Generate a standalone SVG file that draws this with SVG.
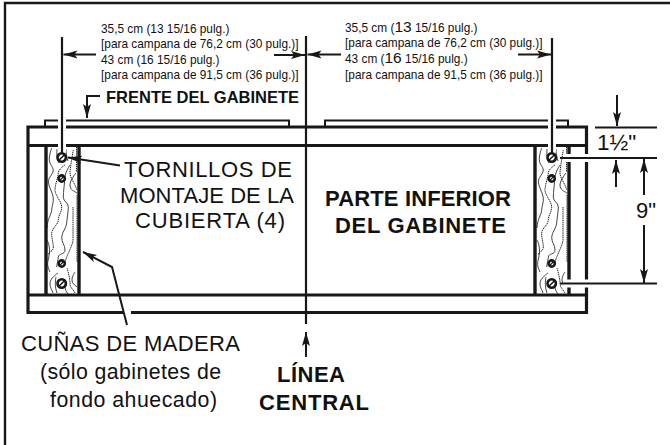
<svg xmlns="http://www.w3.org/2000/svg" width="670" height="445" viewBox="0 0 670 445">
<defs>
<marker id="a" markerUnits="userSpaceOnUse" markerWidth="15" markerHeight="10" refX="14" refY="4.500" orient="auto"><path d="M0 0.500L14 4.500L0 8.500L3 4.500Z" fill="#1a1718"/></marker>
<g id="wood">
<path class="g" d="M51.700 148S49 155 49.300 160 53 166 53.300 170 48 177 48.300 182 53 193 53.300 198 52 205 51.700 210 47.500 218 47 228"/>
<path class="d" d="M65 165S58.500 169 58.300 173 55 185 55 190 61.700 202 61.700 207 58.500 215 58.300 220 52 228 51.700 233 53.300 242 53.300 247 48.500 251 48.300 255"/>
<path class="g" d="M70 165S65.300 172 65 177 63.300 192 63.300 197 68.300 202 68.300 207 67 218 66.700 223 62 232 61.700 237 65 245 65 250 58.500 253 58.300 257 57 263 56.700 267"/>
<path class="d" d="M73.300 150S70 168 70 173 76 185 76.700 190"/>
<path class="g" d="M76 173S70 180 70 185 74 191 77 193"/>
<path class="g" d="M57 149S56 158 59 163M66 149S66 155 68 161"/>
<path class="d" d="M73 207S73 235 73 240 65.300 258 65 263"/>
<path class="g" d="M58 273S50.300 278 50 283 52 289 53 293"/>
<path class="d" d="M67 268S70 278 70 283 73 289 75 293"/>
<path class="g" d="M75 272S72 276 72 280 75 285 77 287"/>
<path class="g" d="M47 240S51 247 49 256 47 265 50 272M56 277S54 285 57 293"/>
<path class="d" d="M76.500 147V172M77 195V262"/>
<path class="g" d="M68 294S63 288 66 284"/>
</g>
<g id="screw-big"><circle class="t" r="4.200"/><path class="l" stroke-width="1.500" d="M-2.800 2.800L2.800 -2.800"/></g>
<g id="screw-small"><circle class="t" r="3.100" stroke-width="1.600"/><path class="l" stroke-width="1.100" d="M-2 2L2 -2"/></g>
</defs>
<style>
text{font-family:"Liberation Sans",Arial,sans-serif;fill:#111}
.s{font-size:11.850px}
.m{font-size:22px;text-anchor:middle}
.w{font-size:21.300px;text-anchor:middle}
.b{font-weight:bold}
.l{fill:none;stroke:#1a1718}
.c{fill:none;stroke:#fff}
.g{fill:none;stroke:#1a1718;stroke-width:.8}
.d{fill:none;stroke:#222;stroke-width:1;stroke-dasharray:1.400 .7}
.t{fill:#fff;stroke:#1a1718;stroke-width:2.600}
</style>
<rect width="670" height="445" fill="#fff"/>
<path id="frame" d="M5 445V3H670" fill="none" stroke="#1a1718" stroke-width="2.400"/>
<g id="cabinet">
<path class="l" stroke-width="2" d="M45 127V120.500H289V127M325 127V120.500H568V127"/>
<path class="l" stroke-width="3.200" d="M28 127H586.500V312.500H28ZM28 145.500H586.500M28 295H586.500"/>
<path class="l" stroke-width="3.400" d="M46 145V295M79 145V295M535 145V295M569 145V295"/>
</g>
<g id="wood-left"><use href="#wood"/></g>
<g id="wood-right"><use href="#wood" transform="translate(490)"/></g>
<g id="connectors">
<path class="c" stroke-width="8" d="M62 116V152M552 116V152M127 306V320M563 158H600M563 283.500H600"/>
<path class="l" stroke-width="2.200" d="M62 37V153M552 38V153M306 36V324"/>
<path class="l" stroke-width="2" marker-end="url(#a)" d="M96 54.500H63.500"/>
<path class="l" stroke-width="2" marker-end="url(#a)" d="M274 55H305"/>
<path class="l" stroke-width="2" marker-end="url(#a)" d="M341 54.500H307.500"/>
<path class="l" stroke-width="2" marker-end="url(#a)" d="M518 54.500H551"/>
<path class="l" stroke-width="2" marker-end="url(#a)" d="M100 96H87V118"/>
<path class="l" stroke-width="2" marker-end="url(#a)" d="M120 165.500L68 157.500"/>
<path class="l" stroke-width="2" marker-end="url(#a)" d="M127 325L112 267L83 252"/>
<path class="l" stroke-width="2" marker-end="url(#a)" d="M306 357V332"/>
<path class="l" stroke-width="2" marker-end="url(#a)" d="M617 95V126"/>
<path class="l" stroke-width="2" d="M595 127.500H657M560 158H657M560 283.500H657"/>
<path class="l" stroke-width="2" marker-end="url(#a)" d="M616 187V160"/>
<path class="l" stroke-width="2" marker-end="url(#a)" d="M644 195V159"/>
<path class="l" stroke-width="2" marker-end="url(#a)" d="M644 225V283"/>
</g>
<g id="screws">
<use id="screw-1" href="#screw-big" x="61.700" y="157.500"/>
<use id="screw-2" href="#screw-small" x="61.700" y="178.500"/>
<use id="screw-3" href="#screw-small" x="61.700" y="263.500"/>
<use id="screw-4" href="#screw-big" x="61.700" y="283.500"/>
<use id="screw-5" href="#screw-big" x="551.700" y="157.500"/>
<use id="screw-6" href="#screw-small" x="551.700" y="178.500"/>
<use id="screw-7" href="#screw-small" x="551.700" y="263.500"/>
<use id="screw-8" href="#screw-big" x="551.700" y="283.500"/>
</g>
<g id="labels">
<text class="s" x="101" y="33">35,5 cm (13 15/16 pulg.)</text>
<text class="s" x="101" y="48">[para campana de 76,2 cm (30 pulg.)]</text>
<text class="s" x="101" y="64">43 cm (16 15/16 pulg.)</text>
<text class="s" x="101" y="79">[para campana de 91,5 cm (36 pulg.)]</text>
<text class="s" x="345" y="32">35,5 cm (<tspan font-size="15.500">13</tspan> 15/16 pulg.)</text>
<text class="s" x="345" y="47">[para campana de 76,2 cm (30 pulg.)]</text>
<text class="s" x="345" y="63">43 cm (<tspan font-size="15.500">16</tspan> 15/16 pulg.)</text>
<text class="s" x="345" y="78.500">[para campana de 91,5 cm (36 pulg.)]</text>
<text x="106" y="103" font-size="16.500" class="b">FRENTE DEL GABINETE</text>
<text class="m" x="208" y="177" textLength="168">TORNILLOS DE</text>
<text class="m" x="207" y="202.500" textLength="174">MONTAJE DE LA</text>
<text class="m" x="210" y="228" textLength="150">CUBIERTA (4)</text>
<text class="m b" x="418" y="206" textLength="186">PARTE INFERIOR</text>
<text class="m b" x="420.500" y="233" textLength="171">DEL GABINETE</text>
<text class="m" x="130.500" y="351" textLength="219">CUÑAS DE MADERA</text>
<text class="w" x="130.500" y="379" textLength="181">(sólo gabinetes de</text>
<text class="w" x="133.500" y="407" textLength="167">fondo ahuecado)</text>
<text class="m b" x="311" y="382" textLength="68">LÍNEA</text>
<text class="m b" x="314" y="410" textLength="110">CENTRAL</text>
<text x="597" y="149.500" font-size="22.500">1½"</text>
<text x="636" y="218" font-size="22">9"</text>
</g>
</svg>
